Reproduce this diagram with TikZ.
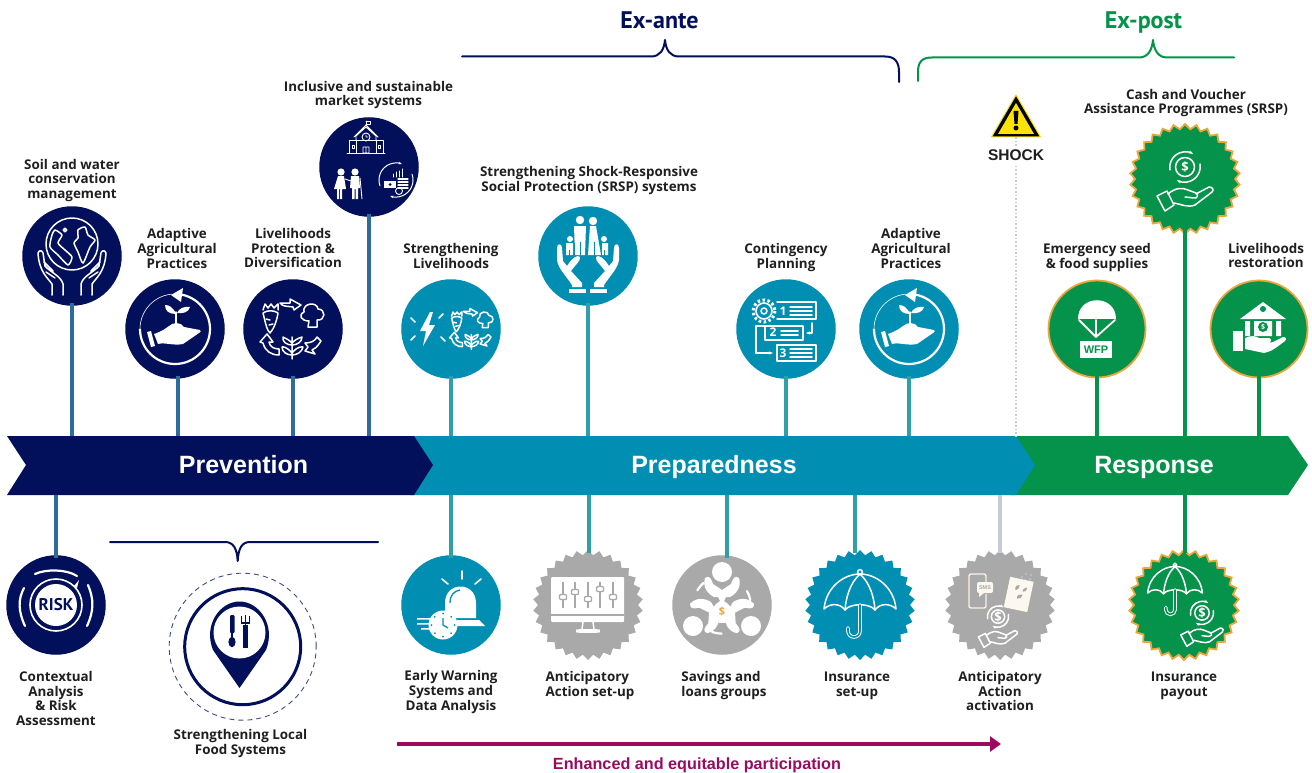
\documentclass[tikz,border=0pt]{standalone}
\usepackage{fontspec}
\setmainfont{Open Sans}
\newfontfamily\headfont{Liberation Sans}
\newfontfamily\capfont{PT Sans}
\usetikzlibrary{arrows.meta,shapes.geometric}
\definecolor{wfpnavy}{HTML}{020F5B}
\definecolor{wfpteal}{HTML}{008EB3}
\definecolor{wfpgreen}{HTML}{05924A}
\definecolor{wfpgray}{HTML}{A9A9A9}
\definecolor{wfpgold}{HTML}{EBA73C}
\definecolor{wfpplum}{HTML}{9A0A5E}
\definecolor{stemnavy}{HTML}{2E6D9A}
\definecolor{stemteal}{HTML}{2F9FA8}
\definecolor{stemgray}{HTML}{C6CDD6}
\colorlet{icbg}{wfpteal}
\tikzset{
	disc/.style={circle,minimum size=99.5,inner sep=0,outer sep=0},
	burst/.style={star,star points=30,star point ratio=1.1,minimum size=110,inner sep=0,outer sep=0},
	lbl/.style={font=\fontsize{13.4}{14.7}\selectfont\bfseries,align=center,text=black!88,inner sep=0},
	phase/.style={font=\headfont\fontsize{25}{25}\selectfont\bfseries,text=white,inner sep=0,anchor=base},
	stem/.style={line width=4,shorten <=-3},
	brc/.style={line width=2,line cap=round,line join=round},
	wl/.style={draw=white,line width=1.5,line cap=round,line join=round},
	wf/.style={fill=white,draw=none},
	% line-art icons, drawn round their own centre
	globehands/.pic={
		\draw[wl] (0,-12) circle (26);
		\draw[wl] plot[smooth cycle,tension=.4] coordinates {(-17,-26)(-10,-21)(-14,-13)(-7,-6)(0,1)(-4,9)(-14,-1)(-22,-9)(-20,-21)};
		\draw[wl] plot[smooth cycle,tension=.4] coordinates {(6,-26)(13,-29)(16,-21)(23,-16)(18,-9)(11,7)(6,-4)(2,-13)(6,-18)};
		\draw[wl] (-7,-26) circle (1.8);
		\foreach \s in {1,-1} \draw[wl,xscale=\s] (-20,39) -- (-20,28) .. controls (-24,22) and (-33,16) .. (-34,-3) .. controls (-33,-6) and (-30,-6) .. (-29,-3) -- (-27,10) .. controls (-22,16) and (-11,20) .. (-9,28) -- (-9,39) (-28,6) -- (-19,15) (-26,16) -- (-17,22);
	},
	planthand/.pic={
		\draw[white,line width=2.2] (0,-35) arc (-90:180:35);
		\draw[white,line width=.6] (-35,0) arc (180:265:35);
		\fill[wf] (-4,-34) -- (8,-41) -- (6,-27) -- cycle;
		\draw[wl] (1,-5) -- (1,-17);
		\fill[wf] (1,-15) .. controls (-2,-22) and (-6,-24) .. (-10,-24) .. controls (-10,-18) and (-6,-15) .. (1,-15);
		\fill[wf] (2,-16) .. controls (4,-21) and (10,-23) .. (15,-22) .. controls (14,-17) and (8,-15) .. (2,-16);
		\fill[wf] (-21,5) .. controls (-12,2) and (-9,-1) .. (-6,-3) .. controls (-2,-7) and (6,-7) .. (9,-2) -- (25,1) .. controls (26,2) and (26,3) .. (24,4) -- (8,15) .. controls (-2,17) and (-10,13) .. (-17,15) -- cycle;
		\fill[wf] (-28,3) -- (-24,2) -- (-20,17) -- (-24,18) -- cycle;
	},
	veggies/.pic={
		\draw[wl] (-30,-16) .. controls (-28,-8) and (-26,2) .. (-23,4) .. controls (-19,0) and (-16,-9) .. (-15,-16) .. controls (-19,-19) and (-26,-19) .. (-30,-16);
		\draw[wl] (-30,-19) -- (-28,-25) -- (-25,-21) -- (-22,-25) -- (-19,-21) -- (-15,-25) -- (-15,-19) (-27,-10) -- (-23,-9) (-20,-5) -- (-24,-4);
		\draw[wl] (-13,-26) -- (-3,-26) -- (-3,-30) -- (8,-24) -- (1,-19) -- (0,-22) .. controls (-6,-23) and (-10,-22) .. (-13,-26);
		\draw[wl] (15,-2) -- (16,-8) .. controls (8,-8) and (5,-14) .. (11,-17) .. controls (9,-26) and (24,-28) .. (25,-20) .. controls (33,-20) and (33,-8) .. (24,-9) -- (24,-2) -- cycle;
		\draw[wl] (-1,30) -- (-1,8) (-1,14) .. controls (-7,8) and (-10,9) .. (-10,8) .. controls (-11,13) and (-6,16) .. (-1,16) (-1,14) .. controls (5,8) and (8,9) .. (9,8) .. controls (9,13) and (4,16) .. (-1,16) (-1,24) .. controls (-7,17) and (-10,18) .. (-11,18) .. controls (-11,23) and (-6,26) .. (-1,26) (-1,24) .. controls (5,17) and (8,18) .. (10,18) .. controls (9,23) and (4,26) .. (-1,26);
		\draw[wl] (12,22) -- (15,18) -- (12,14) .. controls (18,14) and (22,12) .. (24,8) -- (28,12) .. controls (24,18) and (22,20) .. (19,21) -- (22,25) -- cycle;
		\draw[wl] (-33,13) -- (-26,5) -- (-20,13) -- (-24,13) .. controls (-23,18) and (-19,20) .. (-14,20) -- (-14,26) .. controls (-22,26) and (-28,22) .. (-30,14) -- cycle;
	},
	school/.pic={
		\draw[wl,line width=.9] (-17,-6) rectangle (17,7) (-10,-6) -- (-10,7) (10,-6) -- (10,7) (-19,7) -- (19,7);
		\draw[wl,line width=.9] (-10,-6) -- (-10,-10) -- (0,-19) -- (10,-10) -- (10,-6) (-12,-9) -- (0,-21) -- (12,-9);
		\draw[wl,line width=.9] (0,-9) circle (4) (0,-11) -- (0,-9) -- (2,-9) (-3,7) rectangle (3,1) (0,7) -- (0,1);
		\draw[wl,line width=.9] (-14,-1) rectangle (-12,2) (12,-1) rectangle (14,2) (0,-21) -- (0,-25) (0,-25) -- (4,-25) -- (4,-22) -- (0,-22);
	},
	couple/.pic={
		\fill[wf] (-7,-12) circle (3.6) (7,-12) circle (3.6);
		\fill[wf] (-10,-8) -- (-4,-8) -- (-2,5) -- (-6,5) -- (-6,15) -- (-8,15) -- (-8,5) -- (-9,5) -- (-9,15) -- (-11,15) -- (-11,5) -- (-14,5) -- cycle;
		\fill[wf] (3,-8) -- (11,-8) -- (12,4) -- (10,4) -- (10,15) -- (7.5,15) -- (7.5,5) -- (6.5,5) -- (6.5,15) -- (4,15) -- (4,4) -- (2,4) -- cycle;
		\draw[wl,line width=.9] (-3,-5) -- (3,-3) (12,-6) -- (14,15);
	},
	moneycycle/.pic={
		\draw[wl,line width=1,-{Stealth[length=3.5]}] (-16,5.8) arc (160:290:17);
		\draw[wl,line width=1,-{Stealth[length=3.5]}] (16,-5.8) arc (-20:110:17);
		\draw[wl,line width=1] (-3,-6) -- (-3,-3) (0,-8) -- (0,-3) (3,-9) -- (3,-3) (6,-11) -- (6,-3);
		\fill[wf] (-12,1) rectangle (0,8);
		\foreach \y in {-1,2,5,8} \draw[wl,line width=1.1] (2,\y) -- (12,\y);
		\fill[icbg] (-6,4.5) circle (1.5);
		\draw[wl,line width=.9] (3,11) circle (3.5);
	},
	bolt/.pic={
		\fill[wf] (3,-17) -- (-7,2) -- (-1,2) -- (-4,17) -- (8,-4) -- (2,-4) -- (6,-17) -- cycle;
		\draw[wl,line width=1.6] (-16,-11) -- (-12,-7) (-16,11) -- (-12,7) (12,-11) -- (16,-15) (14,8) -- (18,12);
	},
	family/.pic={
		\fill[wf] (-8,-36) circle (4.2) (5,-35) circle (4.2) (-18,-17) circle (3) (16,-17) circle (3);
		\fill[wf] (-14,-30) -- (-2,-30) -- (-3,-1) -- (-13,-1) -- cycle;
		\fill[wf] (2,-30) -- (8,-30) -- (13,-1) -- (0,-1) -- cycle;
		\fill[wf] (-22,-13) -- (-15,-13) -- (-15,-1) -- (-22,-1) -- cycle (13,-13) -- (20,-13) -- (20,-1) -- (13,-1) -- cycle;
		\draw[icbg,line width=.9] (-8,-14) -- (-8,0) (6,-14) -- (6,0) (-18.5,-6) -- (-18.5,0) (16.5,-6) -- (16.5,0) (-14,-13) -- (-14,0) (13,-13) -- (13,0);
		\foreach \s in {1,-1} {\begin{scope}[xscale=\s]
			\fill[wf] (-31,-8) .. controls (-31,-13) and (-26,-13) .. (-26,-8) -- (-25,5) -- (-21,10) .. controls (-16,2) and (-10,-2) .. (-8,1) .. controls (-7,5) and (-13,9) .. (-17,15) -- (-6,27) -- (-6,31) -- (-16,31) -- (-16,29) .. controls (-22,20) and (-30,12) .. (-31,4) -- cycle;
			\fill[wf] (-19,33) rectangle (-2,37);
		\end{scope}}
	},
	gearlist/.pic={
		\draw[white,line width=3,dash pattern=on 2.5 off 2.5] (-22,-18) circle (11);
		\draw[wl,line width=1.6] (-22,-18) circle (8);
		\draw[wl] (-22,-18) circle (3);
		\node[font=\fontsize{12}{12}\selectfont\bfseries,text=white,inner sep=0] (gear1) at (-3,-18) {1};
		\node[font=\fontsize{12}{12}\selectfont\bfseries,text=white,inner sep=0] (gear2) at (-13,3.5) {2};
		\node[font=\fontsize{12}{12}\selectfont\bfseries,text=white,inner sep=0] (gear3) at (-3,24) {3};
		\draw[wl] (-9,-27) -- (30,-27) -- (30,-10) -- (-9,-10);
		\foreach \y in {-22,-18,-14} \draw[wl] (4,\y) -- (26,\y);
		\draw[wl] (-21,-3) -- (-25,-3) (-21,-3) rectangle (17,11);
		\foreach \y in {2,6} \draw[wl] (-5,\y) -- (12,\y);
		\draw[wl] (-9,16) rectangle (30,32);
		\foreach \y in {20,24,28} \draw[wl] (4,\y) -- (26,\y);
		\draw[wl,-{Stealth[length=4]}] (26,-6) -- (26,4) -- (20,4);
		\draw[wl] (-25,-3) -- (-30,-3) -- (-30,24);
		\draw[wl,-{Stealth[length=4]}] (-30,24) -- (-13,24);
	},
	parachute/.pic={
		\fill[wf] (-19,-10) .. controls (-19,-35) and (19,-35) .. (19,-10) -- cycle;
		\draw[wl,line width=1.8] (-18,-9) -- (-1,8) -- (18,-9) (-1,-9) -- (-1,8);
		\fill[wf] (-17,12) rectangle (15,29);
		\node[font=\headfont\fontsize{11}{11}\selectfont\bfseries,text=wfpgreen,inner sep=0] (wfpmark) at (-1,20.5) {WFP};
	},
	bank/.pic={
		\fill[wf] (-19,-10) -- (4,-27) -- (27,-10) -- cycle;
		\fill[wfpgreen] (4,-20) circle (3);
		\fill[wf] (-14,-8) rectangle (-9,7) (17,-8) rectangle (22,7) (-5,-8) rectangle (13,7);
		\fill[wfpgreen] (4,-2) circle (5);
		\node[font=\fontsize{7}{7}\selectfont\bfseries,text=white,inner sep=0] (bankdollar) at (4,-2) {\$};
		\fill[wf] (-26,2) rectangle (-16,22);
		\fill[wf] (-14,9) .. controls (-8,6) and (-3,7) .. (0,9) -- (10,9) .. controls (13,10) and (13,13) .. (9,14) -- (14,13) -- (24,8) .. controls (27,8) and (28,10) .. (26,12) .. controls (18,18) and (12,23) .. (5,24) -- (-14,20) -- cycle;
	},
	dollarhand/.pic={
		\draw[wl] (0,-12) circle (9.5);
		\node[font=\fontsize{13}{13}\selectfont\bfseries,text=white,inner sep=0] (coin) at (0,-12) {\$};
		\draw[wl,-{Stealth[length=4]}] (-15,-9) arc (170:300:15.5);
		\draw[wl,-{Stealth[length=4]}] (15,-15) arc (-10:120:15.5);
		\draw[wl] (-28,17) -- (-18,12) -- (-11,26) -- (-20,32) -- cycle;
		\draw[wl] (-17,15) .. controls (-10,9) and (-3,8) .. (3,11) -- (11,14) .. controls (14,16) and (12,20) .. (9,19) -- (0,18) (11,15) -- (24,8) .. controls (28,8) and (29,11) .. (27,13) -- (10,26) .. controls (3,29) and (-5,25) .. (-11,24);
	},
	risk/.pic={
		\fill[wf] (0,0) circle (21);
		\draw[wl,line width=1.6] (0,0) circle (26);
		\draw[wl,line width=2.2] (-32,-17) .. controls (-38,-6) and (-38,6) .. (-31,21);
		\draw[wl,line width=2.2] (32,-20) .. controls (38,-6) and (38,6) .. (31,21);
		\draw[wl,line width=2.2] (-21,-31) .. controls (-10,-36) and (10,-36) .. (21,-29);
		\fill[wf] (18,-19) -- (23,-25) -- (21,-17) -- cycle;
		\node[font=\capfont\fontsize{17}{17}\selectfont\bfseries,text=wfpnavy,inner sep=0] (risktext) at (0,0) {RISK};
	},
	alarm/.pic={
		\fill[wf] (-6,13) -- (-6,-2) .. controls (-6,-24) and (25,-24) .. (25,-2) -- (25,13) -- cycle;
		\fill[wf] (6,15) -- (28,15) -- (34,21) -- (6,21) -- cycle;
		\draw[wfpteal,line width=1.3] (-1,-2) .. controls (-1,-10) and (3,-14) .. (9,-15);
		\draw[wl,line width=1.6] (11,-34) -- (11,-26) (-9,-26) -- (-3,-21) (30,-26) -- (24,-21);
		\fill[wf] (-8,20) circle (14.5);
		\fill[wf] (-34,13) rectangle (-20,14.5) (-34,18) rectangle (-20,19.5) (-30,23) rectangle (-20,24.5);
		\foreach \a in {0,45,...,315} \fill[wfpteal] ([shift={(\a:11.5)}]-8,20) circle (1);
		\draw[wfpteal,line width=1.3] (-8,13) -- (-8,20) -- (-3,23);
	},
	monitor/.pic={
		\fill[wf,rounded corners=1] (-37,-28) rectangle (36,17);
		\fill[wfpgray] (-37,9) rectangle (36,11);
		\foreach \x/\k in {-25/-8,-13/-13,0/-6,12/-16,25/-8} {
			\draw[wfpgray,line width=1.4] (\x,-23) -- (\x,3);
			\filldraw[fill=white,draw=wfpgray,line width=1.4,rounded corners=1] (\x-3.5,\k-2.5) rectangle (\x+3.5,\k+2.5);
		}
		\draw[wl] (-5,17) -- (-6,24) (5,17) -- (6,24);
		\draw[wl,line width=1.6,rounded corners=2] (-11,25) rectangle (11,27);
	},
	savings/.pic={
		\fill[wf] (0,-33) circle (10) (-29,21) circle (10) (29,21) circle (10);
		\foreach \r in {0,120,240} {\begin{scope}[rotate around={\r:(0,0)}]
			\fill[wf] (-17,-27) .. controls (-13,-30) and (-11,-27) .. (-9,-21) -- (0,-15) -- (9,-21) .. controls (11,-27) and (13,-30) .. (17,-27) .. controls (20,-18) and (14,-11) .. (8,-8) -- (-8,-8) .. controls (-14,-11) and (-20,-18) .. (-17,-27) -- cycle;
			\draw[wl,line width=2.2] (25,-14) arc (-30:-10:28);
		\end{scope}}
		\fill[wf] (-4,-8) -- (4,-8) -- (2,-4) .. controls (13,2) and (15,18) .. (0,18) .. controls (-15,18) and (-13,2) .. (-2,-4) -- cycle;
		\node[font=\fontsize{11}{11}\selectfont\bfseries,text=wfpgold,inner sep=0] (bagdollar) at (0,7) {\$};
	},
	umbrella/.pic={
		\draw[wl] (-36,4) .. controls (-34,-18) and (-16,-31) .. (0,-31) .. controls (16,-31) and (34,-18) .. (36,4) .. controls (30,-2) and (20,-2) .. (15,5) .. controls (10,-2) and (-10,-2) .. (-15,5) .. controls (-20,-2) and (-30,-2) .. (-36,4) -- cycle;
		\draw[wl] (0,-31) .. controls (-10,-22) and (-14,-8) .. (-15,5) (0,-31) .. controls (10,-22) and (14,-8) .. (15,5);
		\draw[wl] (0,-33) circle (2.4);
		\draw[draw=white,line width=1,double=icbg,double distance=1.6,line cap=round] (0,0) -- (0,26) arc (0:180:6) -- (-12,23);
	},
	smsdrop/.pic={
		\draw[draw=white!85!wfpgold,line width=1.4,rounded corners=2] (-31,-31) rectangle (-14,3);
		\fill[wfpgray] (-24,-23) rectangle (-12,-11);
		\fill[white!92!wfpgold,rounded corners=2] (-23,-23) rectangle (-7,-12);
		\fill[white!92!wfpgold] (-21,-12) -- (-16,-12) -- (-21,-8) -- cycle;
		\node[font=\headfont\fontsize{5.5}{5.5}\selectfont\bfseries,text=wfpgray,inner sep=0] (smsword) at (-15,-17.5) {SMS};
		\fill[white!92!wfpgold,rotate around={-12:(19,-12)}] (7,-26) rectangle (31,5);
		\fill[wfpgray,rotate around={-12:(19,-12)}] (15,-14) .. controls (13,-18) and (16,-20) .. (18,-20) .. controls (19,-17) and (17,-15) .. (15,-14) (22,-14) .. controls (22,-18) and (25,-19) .. (26,-19) .. controls (26,-15) and (24,-14) .. (22,-14) (18,-6) .. controls (17,-10) and (20,-11) .. (23,-11) .. controls (23,-8) and (21,-6) .. (18,-6);
		\foreach \x/\y in {22/-28,26/-31,30/-26,25/-25,31/-30,28/-23} \fill[white] (\x,\y) circle (.7);
	},
}
\begin{document}
\begin{tikzpicture}[>=Stealth,x=1pt,y=-1pt]
	\useasboundingbox (0,0) rectangle (1312,773);
	\fill[white] (0,0) rectangle (1312,773);
	% the three phases, last one first so the tips overlap
	\fill[wfpgreen] (1010,436)--(1288,436)--(1308,465)--(1288,495)--(1010,495)--cycle;
	\fill[wfpteal] (410,436)--(1016,436)--(1035,465)--(1016,495)--(410,495)--cycle;
	\fill[wfpnavy] (7,436)--(414,436)--(433,465)--(414,495)--(7,495)--(26,465)--cycle;
	\node[phase] (prevention) at (243.5,473) {Prevention};
	\node[phase] (preparedness) at (714,473) {Preparedness};
	\node[phase] (response) at (1154,473) {Response};
	% ends of the stems on the bar
	\foreach \n/\x in {soil/72,adapta/177.5,liveli/293,market/369,streng/451,srsp/588,conting/786,adaptb/909,seeds/1097,cash/1185,restore/1259}
		\coordinate (b-\n) at (\x,436);
	\foreach \n/\x in {risk/56,early/451,aasetup/589,savings/727,insset/855,aaact/1000,payout/1185}
		\coordinate (b-\n) at (\x,495);
	% discs above the bar
	\node[disc,fill=wfpnavy] (soil) at (72,256) {};
	\node[disc,fill=wfpnavy] (adapta) at (175,329) {};
	\node[disc,fill=wfpnavy] (liveli) at (293,329) {};
	\node[disc,fill=wfpnavy] (market) at (369,167) {};
	\node[disc,fill=wfpteal] (streng) at (451,329) {};
	\node[disc,fill=wfpteal] (srsp) at (588,256) {};
	\node[disc,fill=wfpteal] (conting) at (786,329) {};
	\node[disc,fill=wfpteal] (adaptb) at (909,329) {};
	\node[disc,fill=wfpgreen,draw=wfpgold,line width=1.8,minimum size=97] (seeds) at (1097,329) {};
	\node[burst,fill=wfpgreen,draw=wfpgold,line width=1.8] (cash) at (1185,179) {};
	\node[disc,fill=wfpgreen,draw=wfpgold,line width=1.8,minimum size=97] (restore) at (1259,329) {};
	% discs below the bar
	\node[disc,fill=wfpnavy] (risk) at (56,605) {};
	\node[disc,fill=wfpteal] (early) at (451,605) {};
	\node[burst,fill=wfpgray] (aasetup) at (588,605) {};
	\node[disc,fill=wfpgray] (savings) at (722,605) {};
	\node[burst,fill=wfpteal] (insset) at (860,605) {};
	\node[burst,fill=wfpgray] (aaact) at (1000,605) {};
	\node[burst,fill=wfpgreen,draw=wfpgold,line width=1.8] (payout) at (1184,605) {};
	% stems
	\foreach \n in {soil,adapta,liveli,market}
		\draw[stem,stemnavy] (b-\n |- \n.south) -- (b-\n);
	\foreach \n in {streng,srsp,conting,adaptb}
		\draw[stem,stemteal] (b-\n |- \n.south) -- (b-\n);
	\foreach \n in {seeds,cash,restore}
		\draw[stem,wfpgreen] (b-\n |- \n.south) -- (b-\n);
	\draw[stem,stemnavy] (b-risk |- risk.north) -- (b-risk);
	\foreach \n in {early,aasetup,savings,insset}
		\draw[stem,stemteal] (b-\n |- \n.north) -- (b-\n);
	\draw[stem,stemgray] (b-aaact |- aaact.north) -- (b-aaact);
	\draw[stem,wfpgreen] (b-payout |- payout.north) -- (b-payout);
	% icons
	\path (soil) pic {globehands};
	\path (adapta) pic {planthand};
	\path (liveli) pic {veggies};
	\colorlet{icbg}{wfpnavy}
	\path (market) ++(-3,-21) pic {school};
	\path (market) ++(-21,17) pic {couple};
	\path (market) ++(27,13) pic {moneycycle};
	\colorlet{icbg}{wfpteal}
	\path (streng) ++(-24,0) pic {bolt};
	\path (streng) ++(21,0) pic[scale=.68] {veggies};
	\path (srsp) pic {family};
	\path (conting) pic {gearlist};
	\path (adaptb) pic {planthand};
	\path (seeds) pic {parachute};
	\path (restore) pic {bank};
	\path (cash) pic {dollarhand};
	\path (risk) pic {risk};
	\path (early) pic {alarm};
	\path (aasetup) pic {monitor};
	\path (savings) pic {savings};
	\path (insset) pic {umbrella};
	\path (aaact) pic {smsdrop};
	\path (aaact) ++(-2,20) pic[scale=.7] {dollarhand};
	\colorlet{icbg}{wfpgreen}
	\path (payout) ++(-9,-15) pic[scale=.76] {umbrella};
	\path (payout) ++(18,17) pic[scale=.76] {dollarhand};
	% labels
	\node[lbl] (soil-t) at (72,180.5) {Soil and water\\conservation\\management};
	\node[lbl] (adapta-t) at (177,248.5) {Adaptive\\Agricultural\\Practices};
	\node[lbl] (liveli-t) at (293,248) {Livelihoods\\Protection \&\\Diversification};
	\node[lbl] (market-t) at (368.5,95) {Inclusive and sustainable\\market systems};
	\node[lbl] (streng-t) at (451,256) {Strengthening\\Livelihoods};
	\node[lbl] (srsp-t) at (589,180.5) {Strengthening Shock-Responsive\\Social Protection (SRSP) systems};
	\node[lbl] (conting-t) at (786,257.5) {Contingency\\Planning};
	\node[lbl] (adaptb-t) at (911,248.5) {Adaptive\\Agricultural\\Practices};
	\node[lbl] (cash-t) at (1186,103) {Cash and Voucher\\Assistance Programmes (SRSP)};
	\node[lbl] (seeds-t) at (1097,257.5) {Emergency seed\\\& food supplies};
	\node[lbl] (restore-t) at (1266,255.5) {Livelihoods\\restoration};
	\node[lbl] (risk-t) at (56,698.5) {Contextual\\Analysis\\\& Risk\\Assessment};
	\node[lbl] (food-t) at (240.5,743.5) {Strengthening Local\\Food Systems};
	\node[lbl] (early-t) at (451,692) {Early Warning\\Systems and\\Data Analysis};
	\node[lbl,align=left] (aasetup-t) at (590,685.5) {Anticipatory\\Action set-up};
	\node[lbl,align=left] (savings-t) at (724,685.5) {Savings and\\loans groups};
	\node[lbl] (insset-t) at (857,685.5) {Insurance\\set-up};
	\node[lbl] (aaact-t) at (1000,691) {Anticipatory\\Action\\activation};
	\node[lbl] (payout-t) at (1184,685.5) {Insurance\\payout};
	% local food systems
	\node[circle,draw=wfpnavy!75,dash pattern=on 5 off 4,line width=.9,minimum size=147,inner sep=0] (foodring) at (242.7,646.7) {};
	\node[circle,draw=wfpnavy,line width=3,minimum size=116,inner sep=0] (food) at (242.7,646.7) {};
	\fill[wfpnavy] (239.5,688) -- (213,650) .. controls (203,625) and (220,601.5) .. (239.5,601.5) .. controls (259,601.5) and (276,625) .. (266,650) -- cycle;
	\fill[white] (239.5,632.5) circle (26);
	\fill[wfpnavy,rounded corners=1] (230,615) rectangle (234.5,633);
	\fill[wfpnavy] (232,642) ellipse (3.6 and 5.2);
	\draw[wfpnavy,line width=1.1] (232,633) -- (232,640);
	\fill[wfpnavy] (243,625) rectangle (248,648);
	\draw[wfpnavy,line width=1.1] (241.5,616) -- (241.5,623) -- (249.5,623) -- (249.5,616) (245.5,615) -- (245.5,625);
	% braces
	\draw[brc,wfpnavy] (462,56.5) -- (651,56.5) .. controls (660,56.5) and (664,50) .. (665,40) .. controls (666,50) and (670,56.5) .. (679,56.5) -- (885,56.5) .. controls (895,56.5) and (899,62) .. (899,72) -- (899,82);
	\draw[brc,wfpgreen] (918,81) -- (918,72) .. controls (918,62) and (922,57.5) .. (932,57.5) -- (1139,57.5) .. controls (1148,57.5) and (1152,50) .. (1153,40) .. controls (1154,50) and (1158,57.5) .. (1167,57.5) -- (1234,57.5);
	\draw[brc,wfpnavy] (110,542) -- (225,542) .. controls (233,542) and (237,548) .. (237.7,561) .. controls (238.4,548) and (242,542) .. (250,542) -- (378,542);
	\node[font=\capfont\fontsize{24}{24}\selectfont\bfseries,text=wfpnavy,inner sep=0,anchor=base] (exante) at (659.5,28.5) {Ex-ante};
	\node[font=\capfont\fontsize{24}{24}\selectfont\bfseries,text=wfpgreen,inner sep=0,anchor=base] (expost) at (1143.5,28.5) {Ex-post};
	% shock
	\coordinate (shock-a) at (1016,137);
	\coordinate (shock-b) at (1016,436);
	\draw[stemgray,line width=1.6,dotted] (shock-a) -- (shock-b);
	\fill[white] (986,146) rectangle (1046,164);
	\node[font=\headfont\fontsize{15.5}{15.5}\selectfont\bfseries,text=black!88,inner sep=0] (shock) at (1016,155) {SHOCK};
	\filldraw[fill=black,draw=wfpgold!40!yellow,line width=1,line join=round] (1016,95) -- (1040.5,137) -- (991.5,137) -- cycle;
	\fill[yellow!85!orange] (1016,103) -- (1034,134) -- (998,134) -- cycle;
	\fill[black] (1013.5,111) -- (1018.5,111) -- (1017.5,124) -- (1014.5,124) -- cycle;
	\fill[black] (1016,128) circle (2.5);
	% participation
	\coordinate (part-a) at (397,744);
	\coordinate (part-b) at (1001,744);
	\draw[line width=4,wfpplum,-{Triangle[length=11pt,width=15pt]}] (part-a) -- (part-b);
	\node[font=\headfont\fontsize{16.2}{16.2}\selectfont\bfseries,text=wfpplum,inner sep=0] (part-t) at (697,765) {Enhanced and equitable participation};
\end{tikzpicture}
\end{document}
